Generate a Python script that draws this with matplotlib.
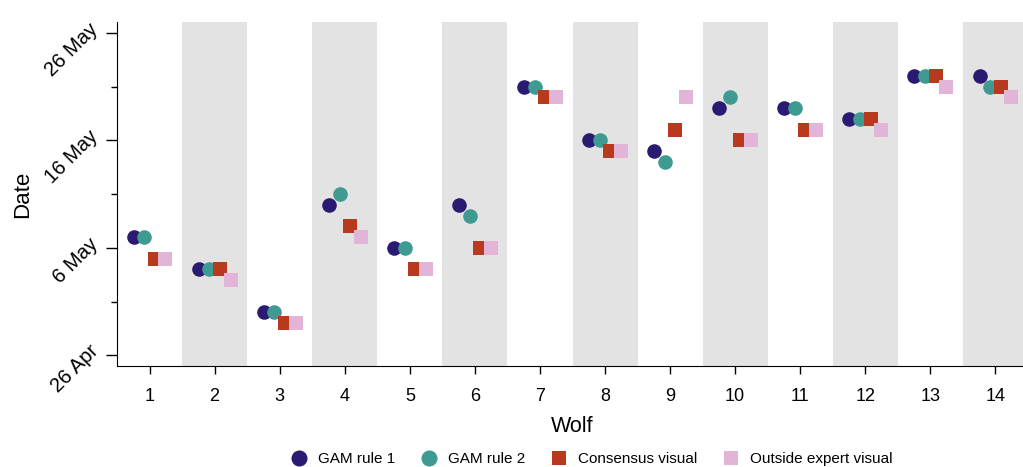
import datetime as dt
import numpy as np
import matplotlib
matplotlib.use("Agg")
import matplotlib.pyplot as plt
import matplotlib.dates as mdates
from matplotlib.ticker import FuncFormatter

plt.rcParams['font.family'] = ['Liberation Sans', 'DejaVu Sans']

# Datos (fechas de cada lobo)
wolves = list(range(1, 15))
gam_rule1 = ["05-07", "05-04", "04-30", "05-10", "05-06", "05-10", "05-21",
             "05-16", "05-15", "05-19", "05-19", "05-18", "05-22", "05-22"]
gam_rule2 = ["05-07", "05-04", "04-30", "05-11", "05-06", "05-09", "05-21",
             "05-16", "05-14", "05-20", "05-19", "05-18", "05-22", "05-21"]
consensus = ["05-05", "05-04", "04-29", "05-08", "05-04", "05-06", "05-20",
             "05-15", "05-17", "05-16", "05-17", "05-18", "05-22", "05-21"]
outside = ["05-05", "05-03", "04-29", "05-07", "05-04", "05-06", "05-20",
           "05-15", "05-20", "05-16", "05-17", "05-17", "05-21", "05-20"]

series_names = ["GAM rule 1", "GAM rule 2", "Consensus visual", "Outside expert visual"]
series_data = [gam_rule1, gam_rule2, consensus, outside]
colors = ["#2b1a72", "#3f9a92", "#b83a1e", "#e2b5d8"]
markers = ["o", "o", "s", "s"]
sizes = [10.5, 10.5, 9.5, 9.5]
offsets = [-0.245, -0.08, 0.08, 0.245]


def to_date(s):
    m, d = s.split("-")
    return dt.date(2020, int(m), int(d))


fig = plt.figure(figsize=(10.23, 4.67), dpi=100)
ax = fig.add_axes([117 / 1023, 1 - 366 / 467, (1028 - 117) / 1023, (366 - 22) / 467])

# bandas grises para lobos pares
for w in wolves:
    if w % 2 == 0:
        ax.axvspan(w - 0.5, w + 0.5, color="#e3e3e3", lw=0, zorder=0)

x = np.array(wolves, dtype=float)
for name, vals, c, m, s, off in zip(series_names, series_data, colors, markers, sizes, offsets):
    dates = [to_date(v) for v in vals]
    ax.plot(x + off, dates, linestyle="none", marker=m, color=c, markersize=s,
            markeredgewidth=0, label=name, zorder=3)

ax.set_xlim(0.5, 14.5)
ax.set_ylim(dt.date(2020, 4, 26) - dt.timedelta(days=1.15), dt.date(2020, 5, 26) + dt.timedelta(days=1.15))
ax.set_xticks(wolves)
ax.set_xticklabels([str(w) for w in wolves], fontsize=13)

major = [dt.date(2020, 4, 26), dt.date(2020, 5, 6), dt.date(2020, 5, 16), dt.date(2020, 5, 26)]
minor = [dt.date(2020, 5, 1), dt.date(2020, 5, 11), dt.date(2020, 5, 21)]
ax.set_yticks([mdates.date2num(d) for d in major])
ax.set_yticks([mdates.date2num(d) for d in minor], minor=True)
ax.yaxis.set_major_formatter(FuncFormatter(
    lambda v, p: f"{mdates.num2date(v).day} {mdates.num2date(v).strftime('%b')}"))
for lab in ax.get_yticklabels():
    lab.set_rotation(45)
    lab.set_fontsize(14.5)
    lab.set_ha("right")
    lab.set_va("bottom")
    lab.set_rotation_mode("anchor")

ax.tick_params(axis="y", which="major", length=8, width=1, pad=3)
ax.tick_params(axis="y", which="minor", length=4, width=1)
ax.tick_params(axis="x", length=5.5, width=1, pad=10)
ax.spines["top"].set_visible(False)
ax.spines["right"].set_visible(False)

ax.set_xlabel("Wolf", fontsize=15.5, labelpad=8)
ax.set_ylabel("Date", fontsize=16, labelpad=6)

fig.legend(loc="lower center", bbox_to_anchor=(0.575, -0.028), ncol=4, frameon=False,
           fontsize=11, handletextpad=0.25, columnspacing=1.2, markerscale=1.1)

fig.savefig("out.png", dpi=100)
